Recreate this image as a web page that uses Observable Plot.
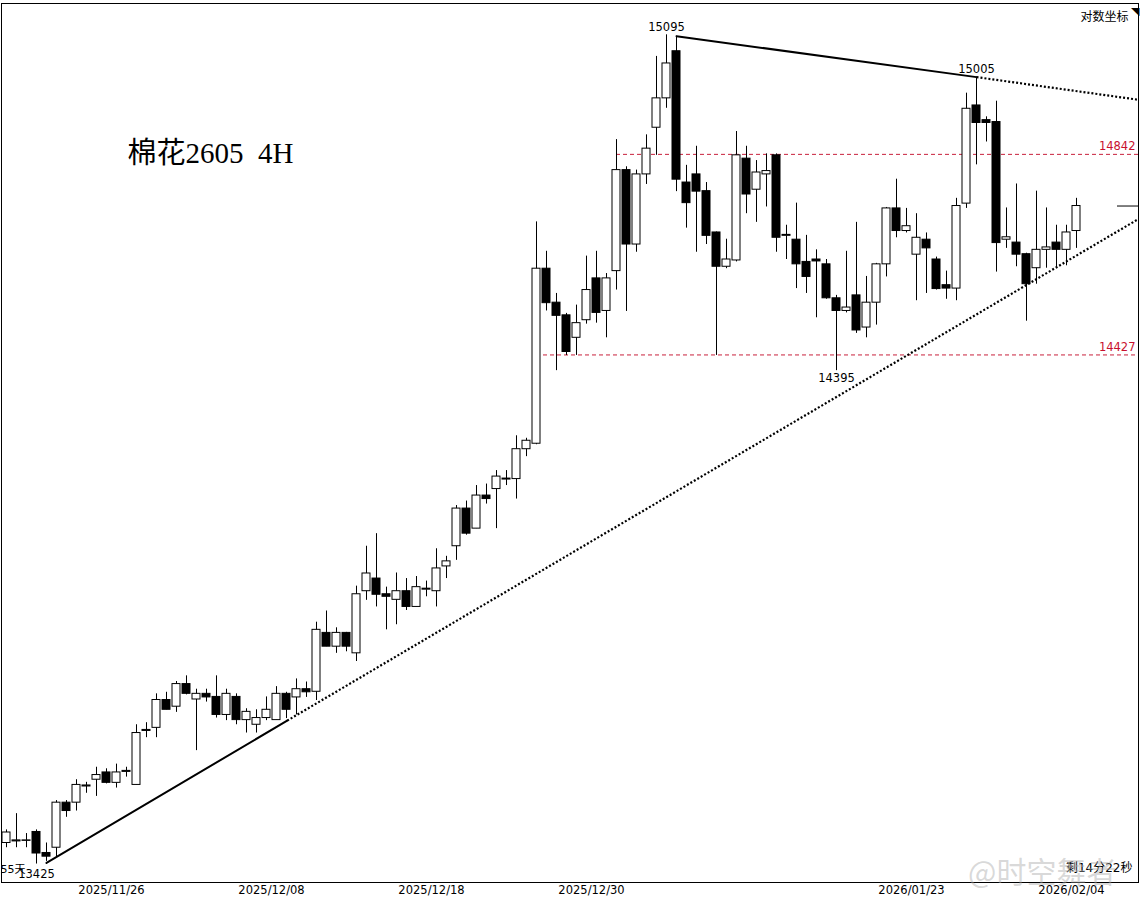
<!DOCTYPE html>
<html><head><meta charset="utf-8">
<script src="https://cdn.jsdelivr.net/npm/d3@7"></script>
<script src="https://cdn.jsdelivr.net/npm/@observablehq/plot@0.6"></script>
<style>
body{margin:0;background:#fff;}
#wrap{position:relative;width:1140px;height:899px;overflow:hidden;}
#wm{position:absolute;left:968px;top:848px;font:30px "Noto Sans CJK SC";color:rgba(170,170,170,0.45);white-space:nowrap;}
</style></head><body><div id="wrap"><div id="wm">@时空舞者</div></div>
<script>
// 4H candles, index 0..107
const open  = [13465,13468,13469,13486,13446,13456,13542,13542,13573,13586,13600,13580,13601,13576,13680,13686,13740,13727,13771,13741,
13752,13746,13711,13746,13701,13692,13705,13701,13752,13745,13761,13756,13871,13844,13871,13831,13953,13978,13947,13936,
13953,13922,13956,13953,14002,14042,14117,14077,14143,14156,14175,14176,14236,14247,14604,14534,14508,14462,14498,14584,
14517,14599,14809,14654,14800,14898,14960,15060,14783,14800,14765,14679,14608,14621,14833,14768,14800,14840,14672,14664,
14618,14623,14613,14543,14517,14549,14483,14534,14613,14729,14682,14633,14664,14623,14570,14563,14739,14945,14914,14910,
14664,14658,14634,14605,14643,14658,14643,14682];
const high  = [13490,13521,13483,13490,13465,13546,13546,13586,13581,13610,13607,13616,13610,13692,13696,13752,13755,13776,13787,13761,
13761,13787,13761,13752,13723,13721,13746,13766,13755,13781,13775,13892,13914,13881,13872,13963,14042,14067,13961,13989,
13978,13982,13973,14037,14022,14123,14132,14163,14166,14193,14193,14263,14258,14701,14640,14553,14512,14529,14630,14640,
14594,14873,14816,14809,14883,15049,15095,15092,14819,14859,14783,14680,14665,14890,14859,14829,14843,14843,14694,14740,
14673,14643,14623,14549,14640,14700,14588,14615,14731,14790,14729,14718,14678,14628,14599,14750,14971,15005,14921,14954,
14730,14780,14636,14765,14730,14694,14694,14750];
const low   = [13456,13456,13456,13425,13430,13437,13514,13526,13560,13554,13578,13570,13591,13576,13667,13667,13721,13716,13750,13642,
13736,13705,13700,13692,13676,13676,13700,13701,13704,13711,13745,13739,13844,13831,13834,13815,13935,13922,13877,13887,
13915,13922,13942,13922,13978,14014,14064,14077,14126,14077,14163,14136,14221,14245,14517,14395,14426,14426,14490,14492,
14462,14560,14516,14638,14779,14840,14939,14764,14688,14638,14654,14426,14604,14618,14718,14700,14732,14638,14623,14563,
14553,14503,14541,14395,14513,14471,14462,14488,14587,14668,14678,14538,14553,14560,14541,14538,14729,14820,14868,14597,
14646,14608,14496,14572,14605,14605,14610,14646];
const close = [13485,13470,13470,13445,13439,13542,13526,13576,13575,13595,13580,13600,13603,13676,13682,13740,13721,13771,13752,13752,
13745,13711,13752,13701,13717,13705,13721,13752,13721,13761,13755,13877,13844,13871,13844,13947,13988,13946,13942,13953,
13922,13961,13958,13998,14012,14117,14067,14143,14136,14181,14177,14236,14253,14604,14533,14507,14433,14492,14560,14513,
14584,14809,14654,14800,14854,14960,15034,14789,14740,14764,14672,14608,14623,14840,14758,14804,14807,14668,14674,14613,
14587,14619,14543,14517,14524,14477,14534,14613,14729,14682,14692,14668,14646,14562,14563,14734,14938,14908,14908,14657,
14669,14633,14572,14643,14648,14643,14679,14734];

// x-axis tick labels (placed between bars at day boundaries)
const tickIdx  = [10.5, 26.5, 42.5, 58.5, 90.5, 106.5];
const tickText = ["2025/11/26","2025/12/08","2025/12/18","2025/12/30","2026/01/23","2026/02/04"];

// trend lines: solid and dotted parts (bar index, price)
const solidLines  = [{id:"sup", i:4, p:13427}, {id:"sup", i:28.07, p:13700},
                     {id:"res", i:67, p:15092}, {id:"res", i:97, p:15005}];
const dottedLines = [{id:"sup", i:28.07, p:13700}, {id:"sup", i:113.2, p:14707},
                     {id:"res", i:97, p:15005}, {id:"res", i:113.2, p:14957}];

// horizontal red levels
const levels = [{p:14842, from:61, t:"14842"}, {p:14427, from:53, t:"14427"}];

// high/low annotations
const notesAbove = [{i:66, p:15095, t:"15095"}, {i:97, p:15005, t:"15005"}];
const notesBelow = [{i:83, p:14395, t:"14395"}];
const lowNote    = [{i:3, p:13425, t:"13425"}];

const lastIdx = 107;
const bars = open.map((o, i) => ({i, o, h: high[i], l: low[i], c: close[i]}));
const tickMap = new Map(tickIdx.map((d, k) => [d, tickText[k]]));

const chart = Plot.plot({
  width: 1140, height: 899,
  marginLeft: 1, marginRight: 2, marginTop: 3, marginBottom: 17,
  style: {fontFamily: "DejaVu Sans", fontSize: "11.5px", background: "white", color: "black"},
  x: {domain: [-0.5, 113.2], ticks: tickIdx, tickFormat: d => tickMap.get(d) ?? "", tickSize: 0, tickPadding: 3, label: null},
  y: {type: "log", domain: [13390, 15162], axis: null},
  marks: [
    Plot.ruleY(levels, {y: "p", x1: "from", x2: 113.2, stroke: "#c8203c", strokeDasharray: "4,3"}),
    Plot.text(levels, {x: 113.2, y: "p", text: "t", textAnchor: "end", dx: -3, dy: -8, fill: "#c8102e", fontSize: 11.5}),
    Plot.ruleX(bars, {x: "i", y1: "l", y2: "h", stroke: "black"}),
    Plot.rect(bars, {x1: d => d.i - 0.4, x2: d => d.i + 0.4, y1: "o", y2: "c",
      fill: d => d.c >= d.o ? "white" : "black", stroke: "black"}),
    Plot.line(solidLines, {x: "i", y: "p", z: "id", stroke: "black", strokeWidth: 2}),
    Plot.line(dottedLines, {x: "i", y: "p", z: "id", stroke: "black", strokeWidth: 2.2,
      strokeDasharray: "2,2", strokeLinecap: "butt"}),
    Plot.ruleY([close[lastIdx]], {x1: 111.1, x2: 113.2, stroke: "black"}),
    Plot.text(notesAbove, {x: "i", y: "p", text: "t", dy: -7.5, fontSize: 11.5}),
    Plot.text(notesBelow, {x: "i", y: "p", text: "t", dy: 8, fontSize: 11.5}),
    Plot.text(lowNote, {x: "i", y: "p", text: "t", dy: 10.5, fontSize: 11.5}),
    Plot.text(["55天"], {frameAnchor: "bottom-left", textAnchor: "start", dx: -1, dy: -10, fontSize: 11, fontFamily: "DejaVu Sans, Noto Sans CJK SC"}),
    Plot.text(["棉花2605  4H"], {frameAnchor: "top-left", textAnchor: "start", dx: 126, dy: 139, fontSize: 29, fontFamily: "Liberation Serif, Noto Sans CJK SC"}),
    Plot.text(["对数坐标"], {frameAnchor: "top-right", textAnchor: "end", dx: -10, dy: 9, fontSize: 12, fontFamily: "Noto Sans CJK SC"}),
    Plot.text(["◥"], {frameAnchor: "top-right", textAnchor: "end", dx: 1, dy: 4, fontSize: 11}),
    Plot.text(["剩14分22秒"], {frameAnchor: "bottom-right", textAnchor: "end", dx: -6, dy: -11, fontSize: 12, fontFamily: "DejaVu Sans, Noto Sans CJK SC"}),
    Plot.frame({stroke: "black"})
  ]
});
document.getElementById("wrap").prepend(chart);
</script>
</body></html>
